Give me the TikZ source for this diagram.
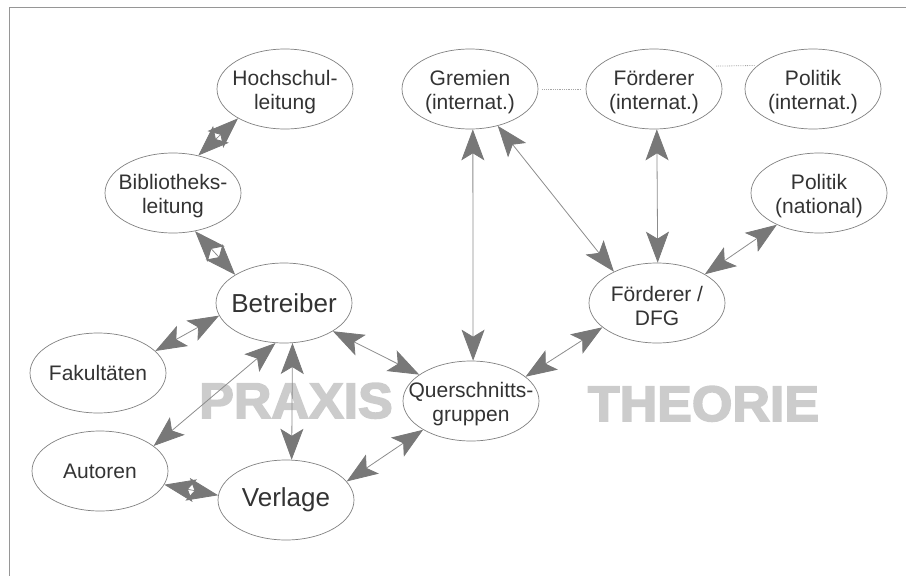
\documentclass[tikz,border=0pt]{standalone}
\usepackage{fontspec}
\setmainfont{Liberation Sans}
\usetikzlibrary{shapes.geometric,arrows.meta,positioning}
\definecolor{lineGray}{RGB}{128,128,128}
\definecolor{headGray}{RGB}{120,120,120}
\definecolor{shaftGray}{RGB}{140,140,140}
\definecolor{textGray}{RGB}{51,51,51}
\definecolor{wordGray}{RGB}{204,204,204}
\definecolor{frameGray}{RGB}{150,150,150}
\newcommand{\heavyword}[1]{\special{pdf:literal direct 2 Tr 1.6 w 0.8 0.8 0.8 RG}#1\special{pdf:literal direct 0 Tr}}
\tikzset{
  actorBox/.style  = {ellipse, draw=lineGray, line width=0.7pt,
                      minimum width=136pt, minimum height=80pt, inner sep=0pt},
  actorText/.style = {text=textGray, font=\fontsize{21}{24}\selectfont,
                      align=center, yshift=#1},
  actorText/.default = -3pt,
  bigText/.style   = {text=textGray, font=\fontsize{26}{30}\selectfont},
  linkArrow/.style = {{Stealth[length=31pt,width=23pt,inset=7pt,color=headGray]}-{Stealth[length=31pt,width=23pt,inset=7pt,color=headGray]},
                      draw=shaftGray, line width=0.8pt},
  linkDots/.style  = {draw=lineGray!70, densely dotted, line width=0.8pt},
  bgWord/.style    = {text=wordGray, font=\fontsize{50}{50}\selectfont\bfseries,
                      xscale=1.04, anchor=base},
}
\begin{document}
\begin{tikzpicture}[x=1pt,y=-1pt]
  \useasboundingbox (0,0) rectangle (906,576);
  \draw[frameGray, line width=0.8pt] (9,576) -- (9,7.5) -- (906,7.5);
  \node[bgWord](praxis) at (296,418){\heavyword{PRAXIS}};
  \node[bgWord](theorie) at (703.5,421){\heavyword{THEORIE}};
  \node[actorBox, label={[actorText]center:Hochschul-\\leitung}](hoch) at (285,89){};
  \node[actorBox, label={[actorText]center:Bibliotheks-\\leitung}](bibl) at (173,193){};
  \node[actorBox, label={[bigText]center:Betreiber}](betr) at (284,303){};
  \node[actorBox, label={[actorText=0pt]center:Fakult\"aten}](faku) at (98,373){};
  \node[actorBox, label={[actorText=0pt]center:Autoren}](auto) at (100,471){};
  \node[actorBox, label={[bigText]center:Verlage}](verl) at (286,500){};
  \node[actorBox, label={[actorText]center:Querschnitts-\\gruppen}](quer) at (471,401){};
  \node[actorBox, label={[actorText]center:Gremien\\(internat.)}](grem) at (470,89){};
  \node[actorBox, label={[actorText]center:F\"orderer\\(internat.)}](foei) at (654,89){};
  \node[actorBox, label={[actorText]center:Politik\\(internat.)}](poli) at (813,89){};
  \node[actorBox, label={[actorText]center:Politik\\(national)}](poln) at (819,193){};
  \node[actorBox, label={[actorText]center:F\"orderer /\\DFG}](dfg) at (657,303){};
  \draw[linkDots, shorten <=4pt, shorten >=5pt](grem.east)--(foei.west);
  \draw[linkDots, shorten <=6pt, shorten >=3pt](foei.22.5)--(poli.157.5);
  \draw[linkArrow](hoch.-148)--(bibl.56);
  \draw[linkArrow](bibl.-60)--(betr.150);
  \draw[linkArrow](betr.-169)--(faku.21);
  \draw[linkArrow](betr.-102)--(auto.25);
  \draw[linkArrow](betr.-78)--(verl.82);
  \draw[linkArrow](auto.-12)--(verl.176);
  \draw[linkArrow](betr.-30)--(quer.153);
  \draw[linkArrow](verl.17)--(quer.-149);
  \draw[linkArrow](grem.-86)--(quer.87);
  \draw[linkArrow](grem.-53)--(dfg.144);
  \draw[linkArrow](foei.-86)--(dfg.89);
  \draw[linkArrow](poln.-143)--(dfg.31);
  \draw[linkArrow](quer.24)--(dfg.-156);
\end{tikzpicture}
\end{document}
